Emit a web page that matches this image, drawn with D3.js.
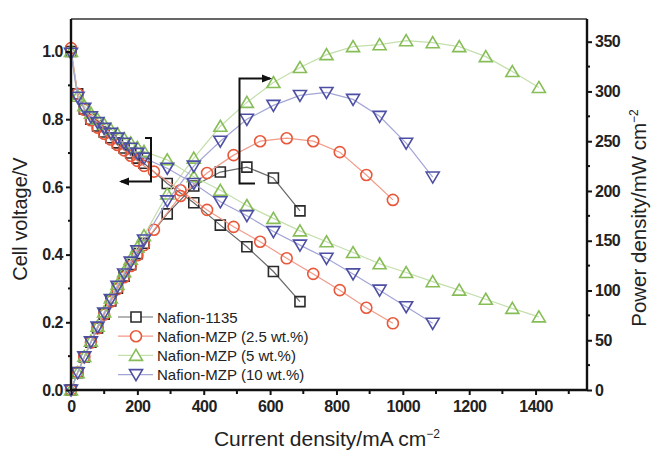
<!DOCTYPE html>
<html>
<head>
<meta charset="utf-8">
<script src="https://cdn.jsdelivr.net/npm/d3@7"></script>
<style>
  body { margin: 0; background: #fff; }
  svg { font-family: "Liberation Sans", Arial, sans-serif; }
</style>
</head>
<body>
<script>
// current density grid (mA cm-2)
const cdDense = [0, 20, 40, 60, 80, 100, 120, 140, 160, 180, 200, 220];
const cd1135 = cdDense.concat([290, 370, 450, 530, 610, 690]);
const cdMzp25 = cdDense.concat([250, 330, 410, 490, 570, 650, 730, 810, 890, 970]);
const cdMzp5 = cdDense.concat([290, 370, 450, 530, 610, 690, 770, 850, 930, 1010, 1090, 1170, 1250, 1330, 1410]);
const cdMzp10 = cdDense.concat([290, 370, 450, 530, 610, 690, 770, 850, 930, 1010, 1090]);

// cell voltage (V)
const v1135 = [1.0, 0.875, 0.83, 0.80, 0.78, 0.762, 0.745, 0.73, 0.715, 0.70, 0.685, 0.67,
               0.61, 0.553, 0.487, 0.423, 0.35, 0.261];
const vMzp25 = [1.01, 0.875, 0.828, 0.797, 0.775, 0.757, 0.74, 0.724, 0.708, 0.692, 0.677, 0.662,
                0.645, 0.59, 0.532, 0.482, 0.438, 0.389, 0.343, 0.295, 0.243, 0.197];
const vMzp5 = [1.0, 0.868, 0.84, 0.818, 0.80, 0.785, 0.77, 0.757, 0.743, 0.73, 0.717, 0.705,
               0.68, 0.63, 0.59, 0.545, 0.507, 0.47, 0.438, 0.406, 0.373, 0.347, 0.32, 0.295, 0.268, 0.241, 0.216];
const vMzp10 = [0.995, 0.865, 0.832, 0.807, 0.79, 0.773, 0.758, 0.744, 0.729, 0.714, 0.699, 0.685,
                0.655, 0.61, 0.556, 0.515, 0.468, 0.428, 0.389, 0.343, 0.295, 0.246, 0.197];

// power density (mW cm-2)
const p1135 = [0, 17.5, 33.2, 48, 62.4, 76.2, 89.4, 102.2, 114.4, 126, 137, 147.4,
               177, 205, 219, 224, 213, 180];
const pMzp25 = [0, 17.5, 33.1, 47.8, 62, 75.7, 88.8, 101.4, 113.3, 124.6, 135.4, 145.6,
                161, 195, 218, 236, 250, 253, 250, 239, 216, 191];
const pMzp5 = [0, 17.4, 33.6, 49.1, 64, 78.5, 92.4, 106, 118.9, 131.4, 143.4, 155.1,
               197, 233, 265, 289, 309, 324, 337, 345, 347, 351, 349, 345, 335, 320, 304];
const pMzp10 = [0, 17.3, 33.3, 48.4, 63.2, 77.3, 91, 104.2, 116.6, 128.5, 139.8, 150.7,
                190, 225, 250, 272, 286, 296, 299, 292, 275, 248, 214];

const seriesNames = ['Nafion-1135', 'Nafion-MZP (2.5 wt.%)', 'Nafion-MZP (5 wt.%)', 'Nafion-MZP (10 wt.%)'];
const xTicks = [0, 200, 400, 600, 800, 1000, 1200, 1400];
const vTicks = [0.0, 0.2, 0.4, 0.6, 0.8, 1.0];
const pTicks = [0, 50, 100, 150, 200, 250, 300, 350];

const width = 651, height = 455;
const plotLeft = 71, plotRight = 587, plotTop = 19, plotBottom = 390;

const x = d3.scaleLinear().domain([0, 1555]).range([plotLeft, plotRight]);
const yV = d3.scaleLinear().domain([0, 1.096]).range([plotBottom, plotTop]);
const yP = d3.scaleLinear().domain([0, 372.8]).range([plotBottom, plotTop]);

const series = [
  { name: seriesNames[0], cd: cd1135, v: v1135, p: p1135, sym: 'square', mark: '#2a2a2a', line: '#6a6a6a' },
  { name: seriesNames[1], cd: cdMzp25, v: vMzp25, p: pMzp25, sym: 'circle', mark: '#e8583a', line: '#f19a88' },
  { name: seriesNames[2], cd: cdMzp5, v: vMzp5, p: pMzp5, sym: 'up', mark: '#86bd57', line: '#c3dfac' },
  { name: seriesNames[3], cd: cdMzp10, v: vMzp10, p: pMzp10, sym: 'down', mark: '#4d4fa3', line: '#a3a5d6' }
];

function symbolPath(sym) {
  if (sym === 'square') return 'M-5,-5H5V5H-5Z';
  if (sym === 'circle') return 'M5.5,0A5.5,5.5 0 1,1 -5.5,0A5.5,5.5 0 1,1 5.5,0Z';
  if (sym === 'up') return 'M0,-6L6.5,5H-6.5Z';
  return 'M0,6L6.5,-5H-6.5Z';
}

const svg = d3.select('body').append('svg')
  .attr('width', width)
  .attr('height', height);

// data lines and markers
const lineV = d3.line().x(d => x(d[0])).y(d => yV(d[1]));
const lineP = d3.line().x(d => x(d[0])).y(d => yP(d[1]));

series.forEach(s => {
  const dv = s.cd.map((c, i) => [c, s.v[i]]);
  const dp = s.cd.map((c, i) => [c, s.p[i]]);
  const g = svg.append('g');
  g.append('path').attr('d', lineV(dv)).attr('fill', 'none').attr('stroke', s.line).attr('stroke-width', 1.2);
  g.append('path').attr('d', lineP(dp)).attr('fill', 'none').attr('stroke', s.line).attr('stroke-width', 1.2);
  g.selectAll('path.mv')
    .data(dv)
    .enter()
    .append('path')
    .attr('class', 'mv')
    .attr('d', symbolPath(s.sym))
    .attr('transform', d => 'translate(' + x(d[0]) + ',' + yV(d[1]) + ')')
    .attr('fill', 'none')
    .attr('stroke', s.mark)
    .attr('stroke-width', 1.6);
  g.selectAll('path.mp')
    .data(dp)
    .enter()
    .append('path')
    .attr('class', 'mp')
    .attr('d', symbolPath(s.sym))
    .attr('transform', d => 'translate(' + x(d[0]) + ',' + yP(d[1]) + ')')
    .attr('fill', 'none')
    .attr('stroke', s.mark)
    .attr('stroke-width', 1.6);
});

// frame
svg.append('line').attr('x1', plotLeft).attr('x2', plotRight).attr('y1', plotTop).attr('y2', plotTop)
  .attr('stroke', '#333').attr('stroke-width', 1.5);

// axes
const xAxis = d3.axisBottom(x).tickValues(xTicks).tickFormat(d3.format('d')).tickSize(5).tickPadding(6);
const vAxis = d3.axisLeft(yV).tickValues(vTicks).tickFormat(d3.format('.1f')).tickSize(5).tickPadding(3);
const pAxis = d3.axisRight(yP).tickValues(pTicks).tickFormat(d3.format('d')).tickSize(5).tickPadding(3);

function styleAxis(g) {
  g.select('.domain').attr('stroke', '#111').attr('stroke-width', 2.4);
  g.selectAll('.tick line').attr('stroke', '#111').attr('stroke-width', 2);
  g.selectAll('.tick text')
    .attr('fill', '#222')
    .style('font-family', '"Liberation Sans", Arial, sans-serif')
    .style('font-size', '16px')
    .style('font-weight', 'bold')
    .style('letter-spacing', '-0.5px');
}

const gx = svg.append('g').attr('transform', 'translate(0,' + plotBottom + ')').call(xAxis).call(styleAxis);
gx.select('.domain').attr('d', 'M' + plotLeft + ',0H' + plotRight);
const gv = svg.append('g').attr('transform', 'translate(' + plotLeft + ',0)').call(vAxis).call(styleAxis);
gv.select('.domain').attr('d', 'M0,' + plotTop + 'V' + plotBottom);
const gp = svg.append('g').attr('transform', 'translate(' + plotRight + ',0)').call(pAxis).call(styleAxis);
gp.select('.domain').attr('d', 'M0,' + plotTop + 'V' + plotBottom);

// minor ticks
const xMinor = [100, 300, 500, 700, 900, 1100, 1300, 1500];
const vMinor = [0.1, 0.3, 0.5, 0.7, 0.9];
const pMinor = [25, 75, 125, 175, 225, 275, 325];
svg.append('g').selectAll('line').data(xMinor).enter().append('line')
  .attr('x1', d => x(d)).attr('x2', d => x(d)).attr('y1', plotBottom).attr('y2', plotBottom + 4)
  .attr('stroke', '#111').attr('stroke-width', 2);
svg.append('g').selectAll('line').data(vMinor).enter().append('line')
  .attr('x1', plotLeft - 3).attr('x2', plotLeft).attr('y1', d => yV(d)).attr('y2', d => yV(d))
  .attr('stroke', '#111').attr('stroke-width', 2);
svg.append('g').selectAll('line').data(pMinor).enter().append('line')
  .attr('x1', plotRight).attr('x2', plotRight + 3).attr('y1', d => yP(d)).attr('y2', d => yP(d))
  .attr('stroke', '#111').attr('stroke-width', 2);

// axis titles
svg.append('text')
  .attr('transform', 'translate(' + 27 + ',' + 219 + ') rotate(-90)')
  .attr('text-anchor', 'middle')
  .style('font-size', '20px')
  .attr('fill', '#222')
  .text('Cell voltage/V');

const pt = svg.append('text')
  .attr('transform', 'translate(' + 646 + ',' + 218 + ') rotate(-90)')
  .attr('text-anchor', 'middle')
  .style('font-size', '20.5px')
  .attr('fill', '#222');
pt.append('tspan').text('Power density/mW cm');
pt.append('tspan').attr('dy', -8).style('font-size', '12px').text('\u22122');

const xt = svg.append('text')
  .attr('x', 327)
  .attr('y', 446)
  .attr('text-anchor', 'middle')
  .style('font-size', '21px')
  .attr('fill', '#222');
xt.append('tspan').text('Current density/mA cm');
xt.append('tspan').attr('dy', -8).style('font-size', '12px').text('\u22122');

// bracket arrows
svg.append('defs').append('marker')
  .attr('id', 'arr')
  .attr('viewBox', '0 0 10 10')
  .attr('refX', 8).attr('refY', 5)
  .attr('markerWidth', 5).attr('markerHeight', 5)
  .attr('orient', 'auto')
  .append('path').attr('d', 'M0,1L10,5L0,9Z').attr('fill', '#111');

svg.append('path')
  .attr('d', 'M145,138H151V181.5H121')
  .attr('fill', 'none').attr('stroke', '#111').attr('stroke-width', 2)
  .attr('marker-end', 'url(#arr)');
svg.append('path')
  .attr('d', 'M255,183.5H239.5V78.5H270')
  .attr('fill', 'none').attr('stroke', '#111').attr('stroke-width', 2)
  .attr('marker-end', 'url(#arr)');

// legend
const legend = svg.append('g').attr('id', 'legend');
const lg = legend.selectAll('g')
  .data(series)
  .enter()
  .append('g')
  .attr('transform', (d, i) => 'translate(118,' + (317 + i * 19.2) + ')');
lg.append('line').attr('x1', 0).attr('x2', 35).attr('y1', 0).attr('y2', 0)
  .attr('stroke', d => d.line).attr('stroke-width', 1.2);
lg.append('path').attr('d', d => symbolPath(d.sym))
  .attr('transform', 'translate(18,0)')
  .attr('fill', '#fff').attr('stroke', d => d.mark).attr('stroke-width', 1.6);
lg.append('text')
  .attr('x', 39).attr('y', 5.5)
  .style('font-size', '15px')
  .attr('fill', '#222')
  .text(d => d.name);
</script>
</body>
</html>
